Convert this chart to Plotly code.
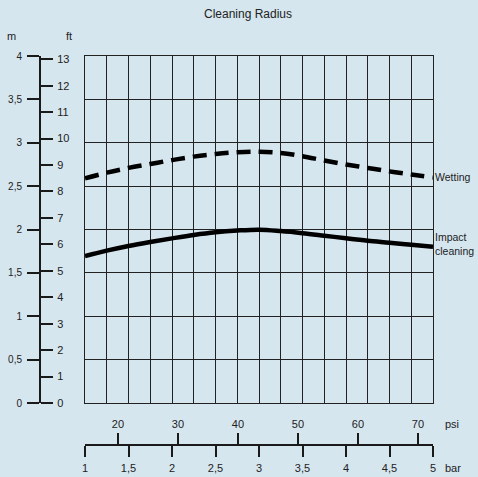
import plotly.graph_objects as go

# ---- data ----
bar_values = [1.0, 1.25, 1.5, 1.75, 2.0, 2.25, 2.5, 2.75, 3.0, 3.25, 3.5, 3.75, 4.0, 4.25, 4.5, 4.75, 5.0]
wetting_m = [2.59, 2.655, 2.71, 2.755, 2.80, 2.84, 2.87, 2.89, 2.897, 2.882, 2.845, 2.795, 2.75, 2.71, 2.67, 2.635, 2.60]
impact_m = [1.694, 1.756, 1.81, 1.856, 1.898, 1.937, 1.968, 1.988, 1.998, 1.982, 1.958, 1.929, 1.899, 1.871, 1.848, 1.824, 1.80]

m_ticks = [0, 0.5, 1, 1.5, 2, 2.5, 3, 3.5, 4]
m_labels = ["0", "0,5", "1", "1,5", "2", "2,5", "3", "3,5", "4"]
ft_ticks = list(range(0, 14))
bar_ticks = [1, 1.5, 2, 2.5, 3, 3.5, 4, 4.5, 5]
bar_labels = ["1", "1,5", "2", "2,5", "3", "3,5", "4", "4,5", "5"]
psi_ticks = [20, 30, 40, 50, 60, 70]

M_PER_FT = 0.3048
PSI_PER_BAR = 14.5038

BG = "#d6e6ef"
INK = "#1a1a1a"
TXT = "#222222"
FONT = "Liberation Sans, Arial, sans-serif"

W, H = 478, 477
xd = [85 / W, 433 / W]
yd = [(H - 403) / H, (H - 56) / H]

fig = go.Figure()
fig.add_trace(go.Scatter(x=bar_values, y=wetting_m, mode="lines",
                         line=dict(color="black", width=4.5, dash="14px,8px", shape="spline"),
                         showlegend=False, hoverinfo="skip"))
fig.add_trace(go.Scatter(x=bar_values, y=impact_m, mode="lines",
                         line=dict(color="black", width=4.5, shape="spline"),
                         showlegend=False, hoverinfo="skip"))
# transparent copies in the secondary units so the secondary axes get drawn
fig.add_trace(go.Scatter(x=bar_values, y=wetting_m, xaxis="x2", yaxis="y2", mode="lines",
                         opacity=0, showlegend=False, hoverinfo="skip"))
fig.add_trace(go.Scatter(x=[b * PSI_PER_BAR for b in bar_values], y=[v / M_PER_FT for v in wetting_m],
                         xaxis="x3", yaxis="y3", mode="lines",
                         opacity=0, showlegend=False, hoverinfo="skip"))

common = dict(automargin=False, zeroline=False, showgrid=False)

fig.update_layout(
    template="none",
    width=W, height=H, autosize=False,
    margin=dict(l=0, r=0, t=0, b=0, pad=0),
    paper_bgcolor=BG, plot_bgcolor=BG,
    font=dict(family=FONT, color=TXT, size=11),
    title=dict(text="Cleaning Radius", x=248 / W, y=(H - 14) / H, xanchor="center", yanchor="middle",
               font=dict(size=12, color=TXT)),
    xaxis=dict(domain=xd, range=[1, 5], dtick=0.25, tick0=1, showgrid=True, gridcolor="#222222", gridwidth=1,
               showticklabels=False, ticks="", zeroline=False, showline=True, mirror=True,
               linecolor="#222222", linewidth=1, automargin=False),
    yaxis=dict(domain=yd, range=[0, 4], dtick=0.5, tick0=0, showgrid=True, gridcolor="#222222", gridwidth=1,
               showticklabels=False, ticks="", zeroline=False, showline=True, mirror=True,
               linecolor="#222222", linewidth=1, automargin=False),
    yaxis2=dict(overlaying="y", anchor="free", position=40 / W, side="left", range=[0, 4],
                tickvals=m_ticks, ticktext=m_labels, ticks="outside", ticklen=12, tickwidth=2,
                tickcolor=INK, showline=True, linewidth=2, linecolor=INK, ticklabelstandoff=3,
                tickfont=dict(size=10, color=TXT), **common),
    yaxis3=dict(overlaying="y", anchor="free", position=40 / W, side="right", range=[0, 4 / M_PER_FT],
                tickvals=ft_ticks, ticks="outside", ticklen=12, tickwidth=2,
                tickcolor=INK, showline=True, linewidth=2, linecolor=INK, ticklabelstandoff=2,
                tickfont=dict(size=11, color=TXT), **common),
    xaxis2=dict(overlaying="x", anchor="free", position=(H - 445) / H, side="bottom", range=[1, 5],
                tickvals=bar_ticks, ticktext=bar_labels, ticks="outside", ticklen=11, tickwidth=2,
                tickcolor=INK, showline=True, linewidth=2, linecolor=INK, ticklabelstandoff=2,
                tickfont=dict(size=11, color=TXT), **common),
    xaxis3=dict(overlaying="x", anchor="free", position=(H - 445) / H, side="top",
                range=[1 * PSI_PER_BAR, 5 * PSI_PER_BAR],
                tickvals=psi_ticks, ticks="outside", ticklen=11, tickwidth=2,
                tickcolor=INK, showline=True, linewidth=2, linecolor=INK, ticklabelstandoff=1,
                tickfont=dict(size=11, color=TXT), **common),
)

ann = [
    dict(text="m", x=11 / W, y=(H - 36) / H, xref="paper", yref="paper", showarrow=False,
         xanchor="center", yanchor="middle", font=dict(size=11)),
    dict(text="ft", x=69 / W, y=(H - 36) / H, xref="paper", yref="paper", showarrow=False,
         xanchor="center", yanchor="middle", font=dict(size=11)),
    dict(text="psi", x=443 / W, y=(H - 424) / H, xref="paper", yref="paper", showarrow=False,
         xanchor="left", yanchor="middle", font=dict(size=11)),
    dict(text="bar", x=443 / W, y=(H - 468) / H, xref="paper", yref="paper", showarrow=False,
         xanchor="left", yanchor="middle", font=dict(size=11)),
    dict(text="Wetting", x=bar_values[-1], y=wetting_m[-1], xref="x", yref="y", showarrow=False,
         xanchor="left", yanchor="middle", xshift=0, font=dict(size=10.5)),
    dict(text="Impact<br>cleaning", x=bar_values[-1], y=impact_m[-1], xref="x", yref="y", showarrow=False,
         xanchor="left", yanchor="middle", align="left", xshift=0, yshift=3, font=dict(size=10.5)),
]
fig.update_layout(annotations=ann)

fig.write_html("out.html", config={"displayModeBar": False, "responsive": False},
               post_script="document.body.style.margin='0';document.body.style.padding='0';")
